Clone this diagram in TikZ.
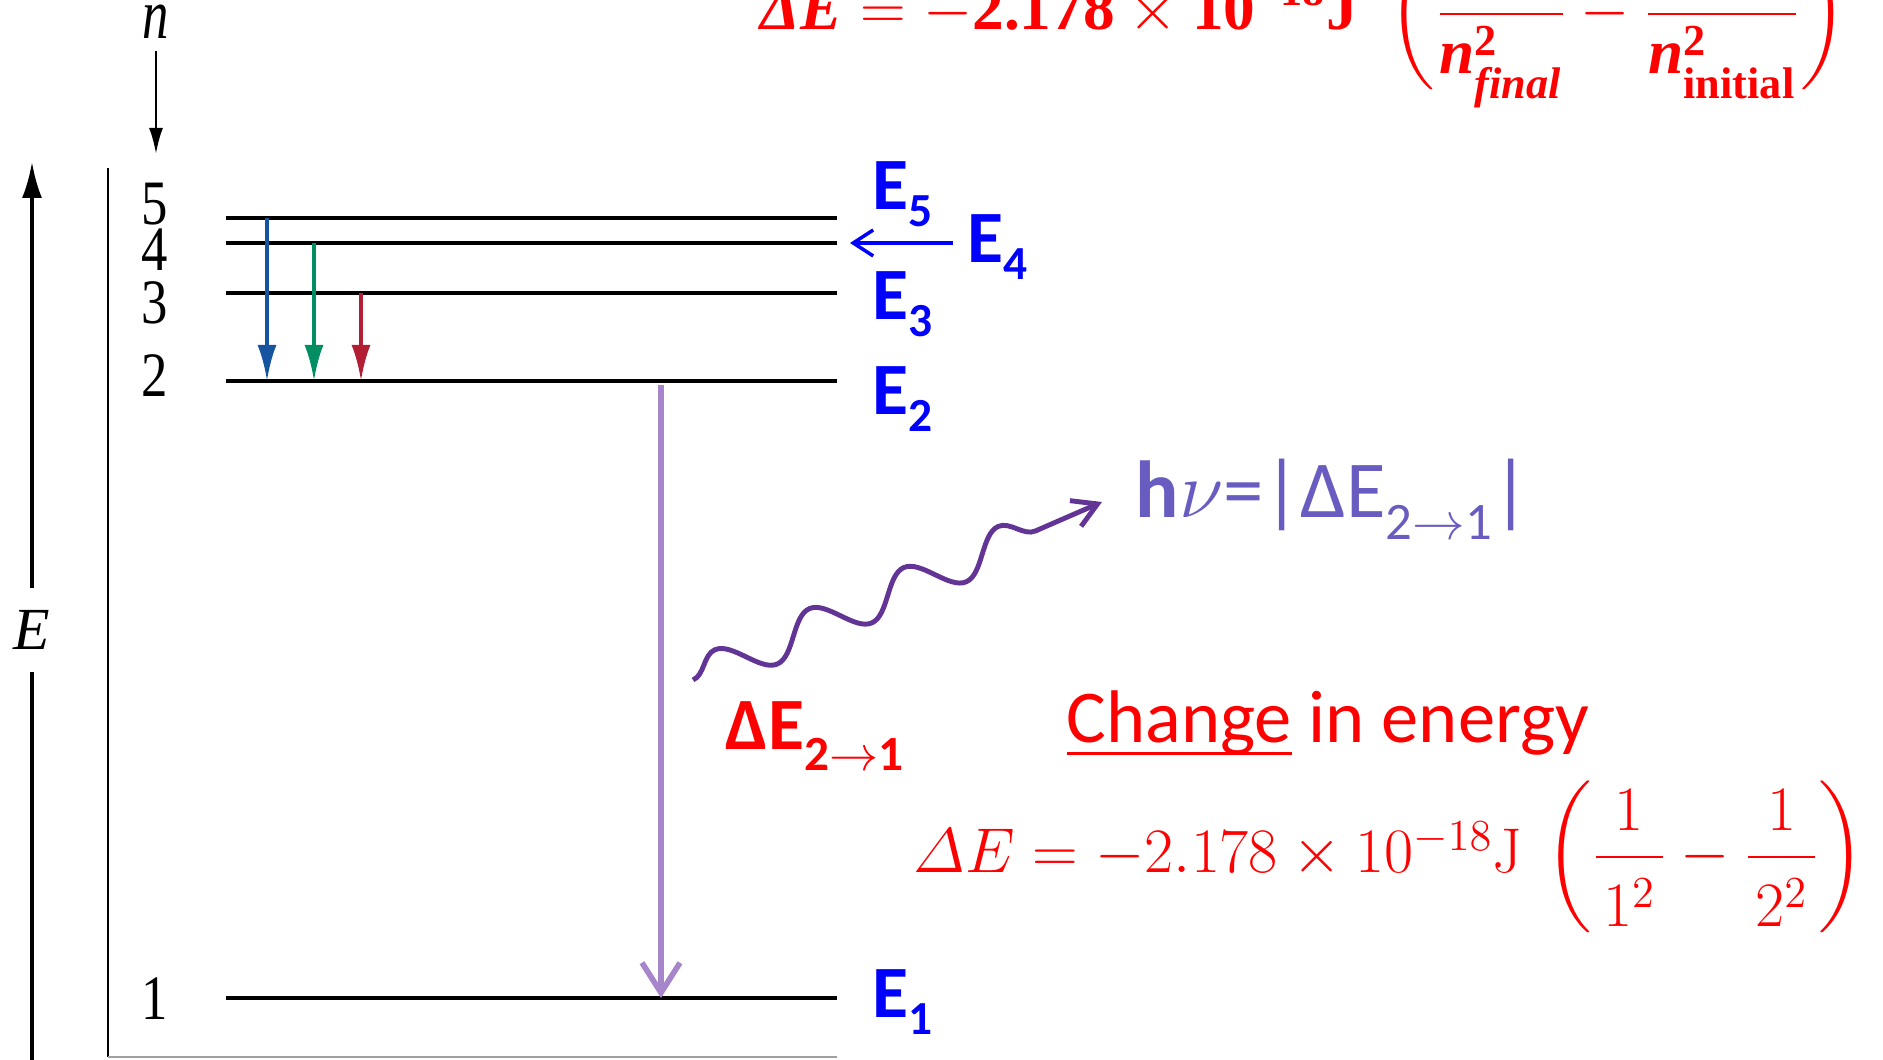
\RequirePackage{fix-cm}
\documentclass[tikz,border=0pt]{standalone}
\usepackage{amsmath,amssymb}
\usepackage{fontspec}
\usepackage{tikz}
\usetikzlibrary{arrows.meta,positioning,decorations.pathmorphing}
\newfontfamily\calibri{Carlito}
\newfontfamily\timesfont{Liberation Serif}
\definecolor{lvlBlue}{RGB}{0,0,255}
\definecolor{eqRed}{RGB}{255,0,0}
\definecolor{transBlue}{RGB}{22,84,160}
\definecolor{transGreen}{RGB}{0,142,98}
\definecolor{transRed}{RGB}{178,30,52}
\definecolor{emitLilac}{RGB}{167,133,202}
\definecolor{photonPurple}{RGB}{98,52,150}
\definecolor{hvSlate}{RGB}{104,92,192}
\definecolor{frameGray}{RGB}{160,160,160}
\tikzset{
  levelline/.style={draw=black,line width=0.9pt},
  framerule/.style={draw=black,line width=0.6pt},
  axisline/.style={draw=black,line width=1pt},
  axistip/.style={-{Latex[length=3.6mm,width=2mm]}},
  ntip/.style={-{Latex[length=2.6mm,width=1.4mm]},draw=black,line width=0.7pt},
  transarrow/.style={-{Latex[length=3.6mm,width=1.9mm]},line width=1.1pt},
  emitarrow/.style={-{Straight Barb[length=3mm,width=3.8mm,line width=1.6pt]},draw=emitLilac,line width=1.9pt},
  pointarrow/.style={-{Straight Barb[length=2mm,width=2.6mm]},draw=lvlBlue,line width=1pt},
  photon/.style={-{Straight Barb[length=2.4mm,width=2.8mm]},draw=photonPurple,line width=1.4pt,
    decorate,decoration={snake,amplitude=1.9mm,segment length=10.3mm,post length=3.5mm}},
  numlab/.style={font=\timesfont\fontsize{15}{15}\selectfont,inner sep=0pt},
  axislab/.style={font=\timesfont\itshape\fontsize{17}{17}\selectfont,inner xsep=0pt,inner ysep=2.2mm},
  Elab/.style={font=\calibri\bfseries\fontsize{21}{21}\selectfont,text=lvlBlue,anchor=base west,inner sep=0pt},
  redlab/.style={font=\calibri\fontsize{21.2}{22}\selectfont,text=eqRed,anchor=base west,inner sep=0pt},
  eqlab/.style={font=\fontsize{18}{22}\selectfont,text=eqRed,anchor=base west,inner sep=0pt},
}
\newcommand{\lowsub}[3]{\raisebox{-#1}{\fontsize{#2}{#2}\selectfont #3}}
\newcommand{\tallnum}[1]{\scalebox{1}[1.2]{#1}}
\newcommand{\bup}[1]{\text{\timesfont\bfseries #1}}
\newcommand{\bit}[1]{\text{\timesfont\bfseries\itshape #1}}
\newcommand{\bsub}[1]{\text{\raisebox{-0.09cm}{\timesfont\bfseries #1}}}
\newcommand{\parstrut}{\rule[-0.62cm]{0pt}{1.6cm}}
\newcommand{\unitfrac}[1]{\smash{\dfrac{1}{\hspace{0.07cm}#1^{2}\hspace{0.07cm}\rule{0pt}{0.6cm}}}}
\newcommand{\DeltaEnum}{$\varDelta E=-2.178\times10^{-18}\mathrm{J}\hspace{0.12cm}\left(\parstrut
  \unitfrac{1}-\unitfrac{2}\right)$}
\newcommand{\DeltaEgen}{$\bit{ΔE}=-\bup{2.178}\times\bup{10}^{\bup{−18}}\bup{J}\hspace{0.2cm}\left(\rule[-0.5cm]{0pt}{1.4cm}
  \smash{\dfrac{\bup{1}}{\bit{n}^{\bup{2}}_{\bsub{\itshape final}}}}-\smash{\dfrac{\bup{1}}{\bit{n}^{\bup{2}}_{\bsub{initial}}}}\right)$}
\newcommand{\hvtext}{{\bfseries h}$\nu$=|ΔE\lowsub{6pt}{15}{2$\rightarrow$1}|}

\begin{document}
\begin{tikzpicture}[x=1cm,y=1cm]
\useasboundingbox (0,0) rectangle (18.83,10.60);

% energy axis
\coordinate (axisbot) at (0.32,0);
\coordinate (axistop) at (0.32,8.98);
\node[axislab] (Eaxis) at (0.32,4.30) {E};
\draw[axisline] (axisbot) -- (Eaxis.south);
\draw[axisline,axistip] (Eaxis.north) -- (axistop);

% frame of the level diagram
\coordinate (frametop) at (1.08,8.92);
\coordinate (framecorner) at (1.08,0.03);
\coordinate (frameend) at (8.37,0.03);
\draw[framerule] (frametop) -- (framecorner);
\draw[framerule,draw=frameGray] (framecorner) -- (frameend);

% quantum number
\node[numlab,font=\timesfont\itshape\fontsize{15}{15}\selectfont] (nlab) at (1.56,10.38) {\scalebox{1}[1.35]{n}};
\coordinate (nend) at (1.56,9.06);
\draw[ntip,shorten <=0.12cm] (nlab.south) -- (nend);

% levels
\foreach \lvl/\y in {5/8.42,4/8.17,3/7.67,2/6.79,1/0.62}{
  \coordinate (L\lvl w) at (2.26,\y);
  \coordinate (L\lvl e) at (8.37,\y);
  \draw[levelline] (L\lvl w) -- (L\lvl e);
}
\foreach \lvl/\y in {5/8.56,4/8.10,3/7.57,2/6.84,1/0.61}
  \node[numlab] (num\lvl) at (1.55,\y) {\tallnum{\lvl}};

% transitions to n=2
\coordinate (xblue) at (2.67,0);
\coordinate (xgreen) at (3.14,0);
\coordinate (xred) at (3.61,0);
\draw[transarrow,draw=transBlue,fill=transBlue] (xblue |- L5w) -- (xblue |- L2w);
\draw[transarrow,draw=transGreen,fill=transGreen] (xgreen |- L4w) -- (xgreen |- L2w);
\draw[transarrow,draw=transRed,fill=transRed] (xred |- L3w) -- (xred |- L2w);

% emission 2 -> 1
\coordinate (xemit) at (6.61,0);
\draw[emitarrow,shorten <=0.04cm] (xemit |- L2w) -- (xemit |- L1w);

% level names
\node[Elab] (E5) at (8.72,8.50) {E\lowsub{4.8pt}{13.5}{5}};
\node[Elab] (E4) at (9.67,7.97) {E\lowsub{4.8pt}{13.5}{4}};
\node[Elab] (E3) at (8.72,7.40) {E\lowsub{4.8pt}{13.5}{3}};
\node[Elab] (E2) at (8.72,6.45) {E\lowsub{4.8pt}{13.5}{2}};
\node[Elab] (E1) at (8.72,0.42) {E\lowsub{4.8pt}{13.5}{1}};
\coordinate (E4tip) at (8.50,8.17);
\draw[pointarrow,shorten <=0.14cm] (E4tip -| E4.west) -- (E4tip);

% photon
\node[Elab,font=\calibri\fontsize{23}{23}\selectfont,text=hvSlate] (hv) at (11.35,5.42) {\hvtext};
\coordinate (photonstart) at (6.93,3.80);
\coordinate (photonend) at (11.02,5.58);
\draw[photon] (photonstart) -- (photonend);

% energy change
\node[Elab,font=\calibri\bfseries\fontsize{21}{21}\selectfont,text=eqRed] (dE21) at (7.25,3.10)
  {ΔE\lowsub{5.7pt}{14}{2$\rightarrow$1}};
\node[redlab] (change) at (10.66,3.17) {\underline{\smash{Change}} in energy};
\node[eqlab] (dEnum) at (9.13,1.87) {\DeltaEnum};
\node[eqlab] (dEgen) at (7.60,10.30) {\DeltaEgen};
\end{tikzpicture}
\end{document}
